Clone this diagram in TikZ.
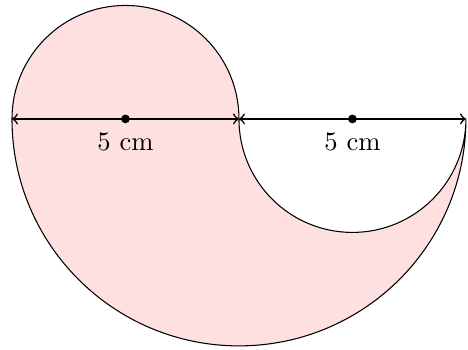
\documentclass[tikz,border=0pt]{standalone}
\begin{document}
\begin{tikzpicture}[x=0.6cm,y=0.6cm,
  dot/.style={circle,fill=black,inner sep=0pt,minimum size=3.3pt},
  lbl/.style={below=0pt},
  dim/.style={<->,semithick}
]
\useasboundingbox (-0.264,-5.09) rectangle (10.046,2.62);
\coordinate (A) at (0,0);
\coordinate (B) at (5,0);
\coordinate (C) at (10,0);
\filldraw[fill=red!12,draw=black] (A) arc[start angle=180,end angle=0,radius=1.5cm]
  arc[start angle=180,end angle=360,radius=1.5cm]
  arc[start angle=0,end angle=-180,radius=3cm] -- cycle;
\draw[dim] (A) -- (B);
\draw[dim] (B) -- (C);
\node[dot] (d1) at (2.5,0) {};
\node[dot] (d2) at (7.5,0) {};
\node[lbl] at (d1.south) {5 cm};
\node[lbl] at (d2.south) {5 cm};
\end{tikzpicture}
\end{document}
